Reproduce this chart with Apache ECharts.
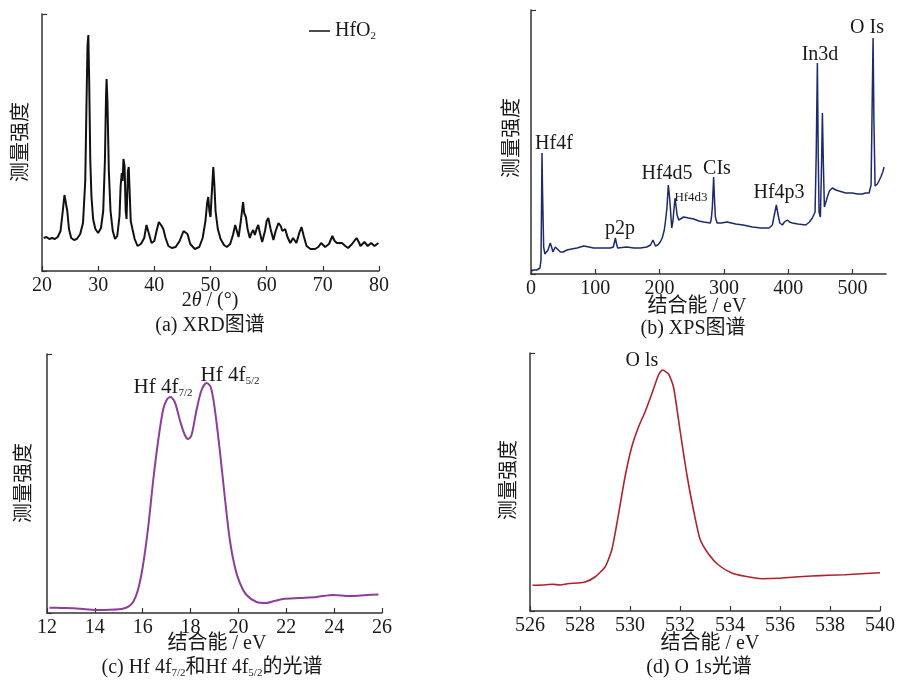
<!DOCTYPE html>
<html>
<head>
<meta charset="utf-8">
<script src="https://cdn.jsdelivr.net/npm/echarts@6/dist/echarts.min.js"></script>
<style>html,body{margin:0;padding:0;background:#fff}#c{width:902px;height:683px}</style>
</head>
<body>
<div id="c"></div>
<script>
// ---- data (intensity in arbitrary units) ----
const xrdPoints = [[20.3,33],[20.8,34],[21.3,32],[21.8,33],[22.3,32],[22.8,34],[23.3,40],[23.7,60],[24.0,76],[24.2,75],[24.5,60],[24.8,42],[25.2,33],[25.7,31],[26.2,32],[26.8,37],[27.3,48],[27.7,90],[27.9,160],[28.1,225],[28.25,236],[28.4,190],[28.6,110],[28.8,75],[29.1,52],[29.5,42],[30.0,38],[30.5,43],[30.9,60],[31.2,110],[31.4,175],[31.5,192],[31.65,170],[31.9,100],[32.2,60],[32.6,40],[33.0,32],[33.4,35],[33.8,55],[34.0,85],[34.2,98],[34.35,90],[34.5,112],[34.7,105],[34.9,60],[35.05,52],[35.3,100],[35.45,104],[35.6,80],[35.8,50],[36.1,42],[36.5,32],[37.0,25],[37.6,27],[38.2,33],[38.6,46],[38.8,48],[39.0,38],[39.5,28],[40.0,30],[40.4,40],[40.8,49],[41.2,46],[41.6,42],[42.0,33],[42.5,25],[43.1,23],[43.8,24],[44.5,30],[45.2,40],[45.5,42],[45.9,37],[46.4,27],[47.2,22],[48.0,24],[48.6,33],[49.1,50],[49.4,68],[49.6,74],[49.8,60],[50.0,54],[50.2,75],[50.5,104],[50.7,85],[50.9,60],[51.3,42],[51.8,32],[52.4,26],[52.9,24],[53.5,27],[54.0,36],[54.4,46],[54.7,40],[55.0,34],[55.4,50],[55.8,69],[56.0,58],[56.3,54],[56.6,42],[57.0,33],[57.3,38],[57.6,41],[57.9,36],[58.2,42],[58.5,46],[58.8,38],[59.2,29],[59.7,40],[60.0,50],[60.3,53],[60.7,42],[61.2,31],[61.6,40],[62.1,48],[62.5,45],[62.8,40],[63.3,42],[63.7,34],[64.2,28],[64.7,33],[65.3,28],[65.8,38],[66.2,44],[66.6,35],[67.1,25],[67.8,22],[68.6,22],[69.2,24],[69.7,28],[70.4,24],[71.1,27],[71.7,35],[72.1,30],[72.5,28],[73.4,28],[74.0,25],[74.5,23],[75.2,27],[76.0,33],[76.4,29],[76.7,25],[77.4,29],[78.0,25],[78.6,28],[79.2,25],[79.9,28]];

const xpsPoints = [[0.5,3],[1.5,2],[4,4],[6.7,5],[9,4],[11.9,2],[14,6],[15.5,14],[16.3,60],[17.1,121],[18,80],[19.7,27],[21.5,20],[23.8,19],[26.5,24],[30,31],[32,27],[34.2,22],[37.8,27],[41,25],[45.6,22],[50,22],[56,24],[63,25],[71.5,26],[82,28],[90,27],[97.5,26],[110,26],[123.4,26],[128,27],[131.2,36],[133,30],[134.8,26],[149,27],[160,26],[170,26],[180,27],[185.8,29],[189.7,34],[193.4,28],[197,29],[201,32],[204,36],[207.3,44],[209.5,55],[211.5,67],[213.5,89],[215,80],[216.6,67],[218.8,46],[220.5,52],[221.8,61],[224,76],[225.5,68],[227.2,59],[229.7,54],[237.5,57],[245,56],[253,55],[261,53],[268.5,52],[278.9,51],[280.5,56],[282,67],[284,97],[285.3,75],[286.7,57],[289.3,51],[296,51],[304.8,52],[318.3,50],[330,49],[344.2,47],[358,46],[370.1,46],[375.3,49],[378,58],[381.5,69],[384,60],[386.8,51],[390.9,49],[394,52],[398.6,54],[402,52],[406.4,51],[415,50],[427.2,49],[433,52],[437.5,56],[441.7,62],[443.5,120],[445.3,211],[446.6,120],[447.9,62],[450,57],[451.5,100],[453.1,161],[454.6,110],[456.2,67],[460.8,77],[464,83],[468.6,86],[474,84],[479,83],[489.4,81],[499.8,81],[507,80],[515.3,80],[520,81],[525.7,81],[528.8,89],[530.5,170],[531.9,236],[533.3,150],[535,88],[538.6,90],[541,93],[543.9,97],[547,102],[549,107]];

const hfPoints = [[12.1,5.3],[12.6,5],[13.1,4.7],[13.6,3.8],[14.2,3],[14.6,3.2],[15.0,3.7],[15.2,4.5],[15.4,6.3],[15.6,11],[15.8,23],[16.0,46],[16.23,86],[16.44,133],[16.65,173],[16.85,203],[17.0,213],[17.16,216],[17.34,211],[17.55,193],[17.76,178],[17.9,174],[18.04,178],[18.25,203],[18.46,223],[18.67,230],[18.84,226],[19.0,206],[19.22,163],[19.43,116],[19.64,73],[19.85,46],[20.06,30],[20.34,18],[20.76,11],[21.17,10],[21.5,12],[21.87,14],[22.56,15],[23.27,16],[23.96,18],[24.66,17],[25.36,18],[25.85,18.6]];

const o1sPoints = [[526.1,25.7],[526.5,26],[526.9,26.7],[527.2,26],[527.5,27.3],[527.9,28],[528.2,29],[528.6,34],[529.0,44],[529.27,61],[529.5,91],[529.8,134],[530.07,164],[530.34,184],[530.6,199],[530.87,217],[531.14,236],[531.3,241],[531.54,237],[531.74,224],[532.0,181],[532.27,137],[532.54,101],[532.8,72],[533.14,57],[533.54,46],[534.07,38],[534.6,34.7],[535.27,32.3],[535.94,32.7],[536.6,34],[537.27,35],[537.94,35.7],[538.6,36.3],[539.27,37.3],[540.0,38.3]];

const xRanges = [[20,80,10],[0,552,100],[12,26,2],[526,540,2]];
const yMax = [257,264,259,258];

const FONT = "'Liberation Serif','Noto Sans CJK SC',serif";
const TXT = '#1a1a1a';
const AX = '#333';

const grids = [
  {left:42, top:14, width:337, height:257},
  {left:531, top:10, width:355, height:264},
  {left:47, top:354, width:335, height:259},
  {left:530, top:353, width:350, height:258}
];

const xAxes = xRanges.map((r,i)=>({
  type:'value', gridIndex:i, min:r[0], max:r[1], interval:r[2],
  axisLine:{onZero:false, lineStyle:{color:AX, width:1.5}},
  axisTick:{inside:true, length:5, lineStyle:{color:AX, width:1.2}},
  splitLine:{show:false},
  axisLabel:{fontFamily:FONT, fontSize:20, color:TXT, margin:5, showMaxLabel: i!==1}
}));
const yAxes = yMax.map((m,i)=>({
  type:'value', gridIndex:i, min:0, max:m, interval:m,
  axisLine:{show:true, onZero:false, lineStyle:{color:AX, width:1.5}},
  axisTick:{show:true, inside:true, length:5, lineStyle:{color:AX, width:1.2}},
  splitLine:{show:false}, axisLabel:{show:false}
}));

const seriesDefs = [
  {name:'HfO2', data:xrdPoints, color:'#111', width:2, smooth:false},
  {name:'XPS', data:xpsPoints, color:'#1d2a6e', width:1.5, smooth:false},
  {name:'Hf4f', data:hfPoints, color:'#8e3d9b', width:2, smooth:0.3},
  {name:'O1s', data:o1sPoints, color:'#b0222e', width:1.6, smooth:0.2}
];

function t(x,y,text,size,extra){
  return Object.assign({type:'text', x:x, y:y, silent:true,
    style:{text:text, fontFamily:FONT, fontSize:size||20, fill:TXT, align:'center', verticalAlign:'middle'}}, extra||{});
}
function ylab(x,y){ return t(x,y,'测量强度',20,{rotation:Math.PI/2}); }
function rt(x,y,text,size,subSize){
  return {type:'text', x:x, y:y, silent:true, style:{text:text, align:'center', verticalAlign:'middle',
    fontFamily:FONT, fontSize:size, fill:TXT,
    rich:{n:{fontFamily:FONT, fontSize:size, fill:TXT, color:TXT, lineHeight:size+2},
          s:{fontFamily:FONT, fontSize:subSize, fill:TXT, color:TXT, verticalAlign:'bottom', lineHeight:size+2},
          i:{fontFamily:FONT, fontSize:size, fill:TXT, color:TXT, fontStyle:'italic', lineHeight:size+2}}}};
}

const graphics = [
  ylab(22,142), rt(210,301,'{n|2}{i|θ}{n| / (°)}',20,12), t(210,326,'(a) XRD图谱',20),
  ylab(513,138), t(697,307,'结合能 / eV',20), t(693,329,'(b) XPS图谱',20),
  ylab(25,483), t(217,644,'结合能 / eV',20), rt(212,668,'{n|(c) Hf 4f}{s|7/2}{n|和Hf 4f}{s|5/2}{n|的光谱}',20,11),
  ylab(510,480), t(710,644,'结合能 / eV',20), t(699,668,'(d) O 1s光谱',20),
  // XPS peak annotations
  t(554,144,'Hf4f',20), t(620,229,'p2p',20), t(667,174,'Hf4d5',20), t(691,198,'Hf4d3',13),
  t(717,169,'CIs',20), t(779,193,'Hf4p3',20), t(820,55,'In3d',20), t(867,28,'O Is',20),
  // Hf 4f peak annotations
  rt(163,387,'{n|Hf 4f}{s|7/2}',21,11), rt(230,375,'{n|Hf 4f}{s|5/2}',21,11),
  t(642,361,'O ls',20)
];

const chart = echarts.init(document.getElementById('c'));
chart.setOption({
  animation:false,
  backgroundColor:'#fff',
  grid:grids,
  xAxis:xAxes,
  yAxis:yAxes,
  legend:{
    data:[{name:'HfO2', icon:'rect', itemStyle:{color:'#111'}}],
    left:304, top:16, itemWidth:21, itemHeight:1.5, itemGap:5,
    formatter:()=>'{a|HfO}{b|2}',
    textStyle:{fontFamily:FONT, fontSize:20, color:TXT,
      rich:{a:{fontFamily:FONT, fontSize:20, color:TXT, lineHeight:22}, b:{fontFamily:FONT, fontSize:11, color:TXT, verticalAlign:'bottom', lineHeight:22}}}
  },
  series:seriesDefs.map((s,i)=>({
    type:'line', name:s.name, xAxisIndex:i, yAxisIndex:i, data:s.data,
    symbol:'none', smooth:s.smooth, lineStyle:{color:s.color, width:s.width}, itemStyle:{color:s.color}
  })),
  graphic:graphics
});
</script>
</body>
</html>
